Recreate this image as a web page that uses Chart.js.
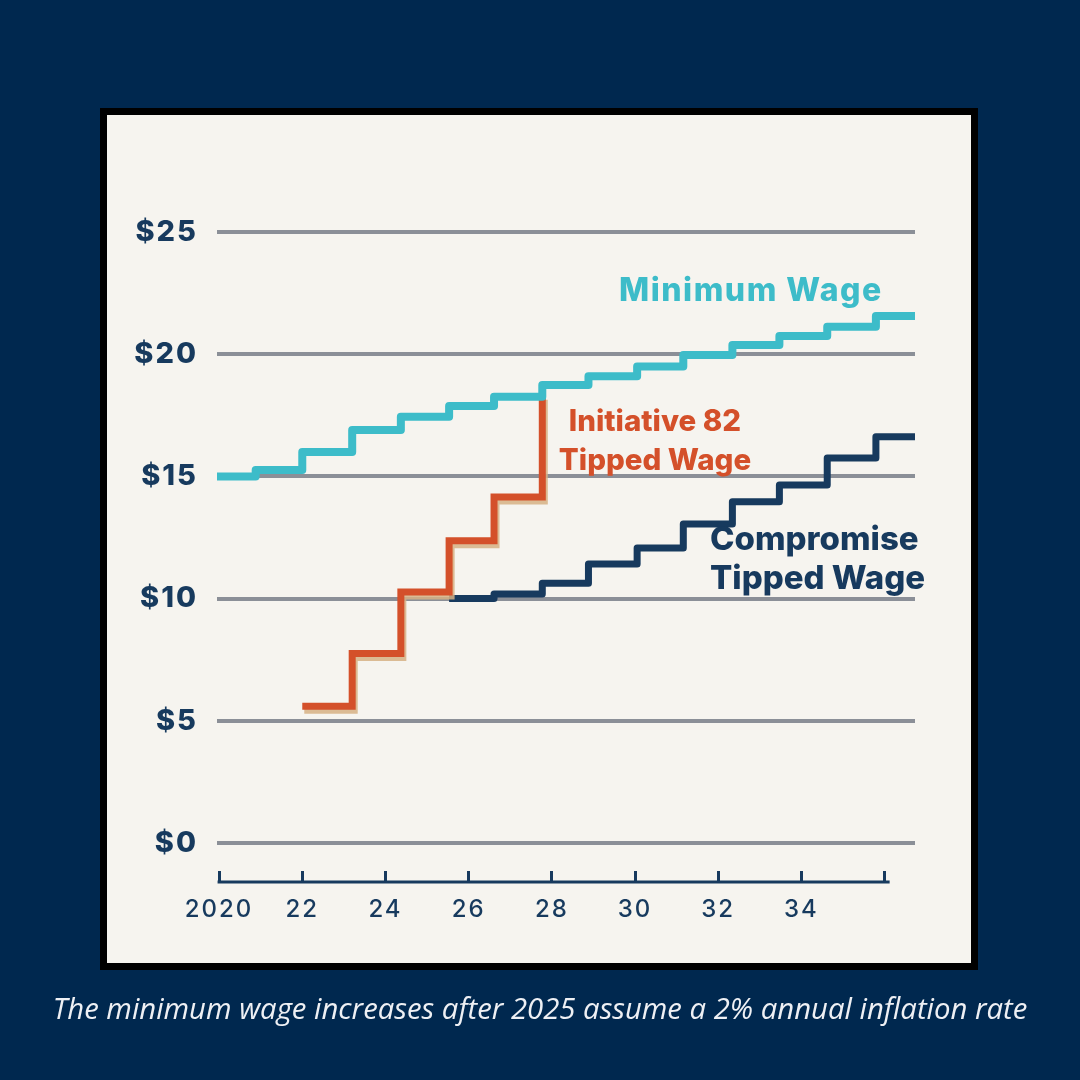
<!DOCTYPE html>
<html lang="en">
<head>
  <meta charset="UTF-8" />
  <title>Minimum wage vs tipped wage</title>
  <script src="https://cdn.jsdelivr.net/npm/chart.js"></script>
  <style>
    html, body {
      margin: 0;
      padding: 0;
      width: 1080px;
      height: 1080px;
      background: #00284f;
      overflow: hidden;
    }
    .panel {
      position: absolute;
      left: 100px;
      top: 108px;
      width: 864px;
      height: 848px;
      background: #f6f4ef;
      border: 7px solid #000;
    }
    canvas {
      position: absolute;
      left: 0;
      top: 0;
    }
    .tag {
      position: absolute;
      font-family: 'Inter', sans-serif;
      font-weight: 800;
      white-space: nowrap;
      line-height: 1.2;
    }
    .caption {
      position: absolute;
      left: 0;
      width: 1080px;
      top: 988px;
      text-align: center;
      color: #eef0f4;
      font-family: 'Open Sans', sans-serif;
      font-style: italic;
      font-size: 29.3px;
    }
  </style>
</head>
<body>
  <div class="panel"></div>
  <canvas id="wageChart" width="1080" height="1080"></canvas>

  <div class="tag" style="left:619px; top:271px; font-size:32px; color:#3dbcc9; letter-spacing:1.5px;">Minimum Wage</div>
  <div class="tag" style="left:535px; width:240px; text-align:center; top:401px; font-size:29.5px; color:#d4502a; line-height:39px;">Initiative 82<br>Tipped Wage</div>
  <div class="tag" style="left:710px; top:519px; font-size:33px; color:#173a5e; line-height:39px;">Compromise<br>Tipped Wage</div>

  <div class="caption">The minimum wage increases after 2025 assume a 2% annual inflation rate</div>

  <script>
    // years where a step happens (read off the picture, not exactly on Jan 1)
    const stepYears = [2019.95, 2020.88, 2022.0, 2023.2, 2024.37, 2025.53, 2026.61, 2027.77,
                       2028.88, 2030.05, 2031.16, 2032.34, 2033.47, 2034.62, 2035.79, 2036.73];
    // value in effect from each step year on
    const minimumWage = [15.0, 15.26, 16.0, 16.9, 17.44, 17.88, 18.26, 18.74,
                         19.1, 19.5, 19.97, 20.38, 20.74, 21.12, 21.56, 21.56];
    const initiative82 = [null, null, 5.6, 7.75, 10.27, 12.37, 14.16, 18.3,
                          null, null, null, null, null, null, null, null];
    const compromise = [null, null, null, null, null, 10.0, 10.19, 10.63,
                        11.42, 12.07, 13.05, 13.96, 14.65, 15.75, 16.62, 16.62];

    const xTicks = [2020, 2022, 2024, 2026, 2028, 2030, 2032, 2034, 2036];
    const yTicks = [0, 5, 10, 15, 20, 25];

    const navy = '#173a5e';

    function points(values) {
      return stepYears.map((yr, i) => ({ x: yr, y: values[i] }));
    }

    // wider tick lettering, the axis fonts in the picture are broad
    const spacingPlugin = {
      id: 'spacing',
      beforeDraw(chart) { chart.ctx.letterSpacing = '2px'; },
      beforeDatasetsDraw(chart) { chart.ctx.letterSpacing = '0px'; }
    };

    // tan shadow under the orange line
    const shadowPlugin = {
      id: 'shadow',
      beforeDatasetDraw(chart, args) {
        if (args.index !== 1) return;
        const ctx = chart.ctx;
        ctx.save();
        ctx.shadowColor = 'rgba(214,176,132,0.85)';
        ctx.shadowOffsetX = 2;
        ctx.shadowOffsetY = 4;
        ctx.shadowBlur = 0;
      },
      afterDatasetDraw(chart, args) {
        if (args.index !== 1) return;
        chart.ctx.restore();
      }
    };

    // x axis line sits under the tick marks, from 2020 to just past the last tick
    const axisLinePlugin = {
      id: 'axisLine',
      afterDraw(chart) {
        const x = chart.scales.x;
        const ctx = chart.ctx;
        const y = chart.chartArea.bottom + 11;
        ctx.save();
        ctx.strokeStyle = navy;
        ctx.lineWidth = 3;
        ctx.beginPath();
        ctx.moveTo(x.getPixelForValue(2020) - 1.5, y);
        ctx.lineTo(x.getPixelForValue(2036) + 5, y);
        ctx.stroke();
        ctx.restore();
      }
    };

    const ctx = document.getElementById('wageChart').getContext('2d');
    new Chart(ctx, {
      type: 'line',
      data: {
        datasets: [
          {
            label: 'Minimum Wage',
            data: points(minimumWage),
            borderColor: '#3dbcc9',
            borderWidth: 8,
            stepped: 'before',
            pointRadius: 0,
            borderJoinStyle: 'round'
          },
          {
            label: 'Initiative 82 Tipped Wage',
            data: points(initiative82),
            borderColor: '#d4502a',
            borderWidth: 7,
            stepped: 'before',
            pointRadius: 0,
            borderJoinStyle: 'miter'
          },
          {
            label: 'Compromise Tipped Wage',
            data: points(compromise),
            borderColor: navy,
            borderWidth: 7,
            stepped: 'before',
            pointRadius: 0,
            borderJoinStyle: 'round'
          }
        ]
      },
      options: {
        responsive: false,
        animation: false,
        layout: {
          padding: { left: 100, right: 165, top: 232, bottom: 149 }
        },
        plugins: {
          legend: { display: false },
          tooltip: { enabled: false }
        },
        scales: {
          x: {
            type: 'linear',
            min: 2019.95,
            max: 2036.73,
            afterBuildTicks: s => { s.ticks = xTicks.map(v => ({ value: v })); },
            afterFit: s => { s.height = 60; },
            border: { display: false },
            grid: {
              drawOnChartArea: false,
              drawTicks: true,
              tickLength: 11,
              tickWidth: 3,
              tickColor: navy
            },
            ticks: {
              padding: 13,
              maxRotation: 0,
              autoSkip: false,
              color: navy,
              font: { family: 'Inter', size: 24, weight: 500 },
              callback: v => v === 2020 ? '2020' : (v === 2036 ? '' : String(v).slice(2))
            }
          },
          y: {
            min: -1.146,
            max: 25,
            afterBuildTicks: s => { s.ticks = yTicks.map(v => ({ value: v })); },
            afterFit: s => { s.width = 117; },
            border: { display: false },
            grid: {
              color: '#8b8f97',
              lineWidth: 4,
              drawTicks: false
            },
            ticks: {
              padding: 19,
              color: navy,
              font: { family: 'Inter', size: 29, weight: 800 },
              callback: v => '$' + v
            }
          }
        }
      },
      plugins: [spacingPlugin, shadowPlugin, axisLinePlugin]
    });
  </script>
</body>
</html>
